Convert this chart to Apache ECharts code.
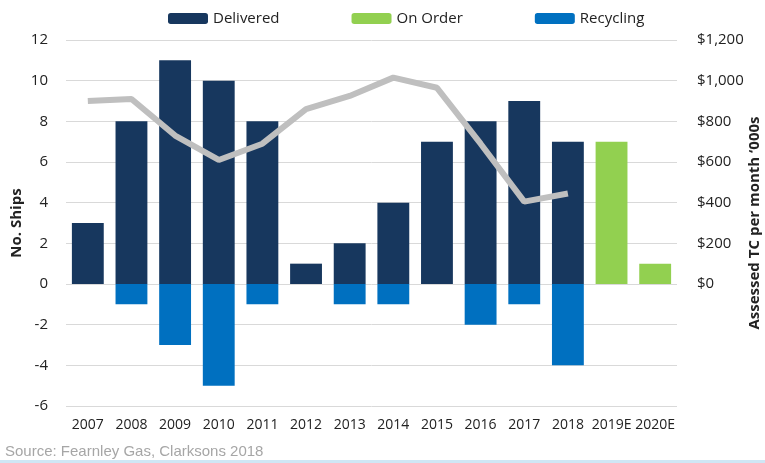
<!DOCTYPE html>
<html><head><meta charset="utf-8">
<script src="https://cdn.jsdelivr.net/npm/echarts@6/dist/echarts.min.js"></script>
<style>html,body{margin:0;padding:0;background:#fff}#c{width:765px;height:463px}</style>
</head><body><div id="c"></div>
<script>
const categories = ['2007','2008','2009','2010','2011','2012','2013','2014','2015','2016','2017','2018','2019E','2020E'];
const delivered = [3, 8, 11, 10, 8, 1, 2, 4, 7, 8, 9, 7, null, null];
const onOrder = [null, null, null, null, null, null, null, null, null, null, null, null, 7, 1];
const recycling = [null, -1, -3, -5, -1, null, -1, -1, null, -2, -1, -4, null, null];
const assessedTC = [900, 910, 730, 610, 690, 860, 925, 1015, 965, 690, 405, 445, null, null];
const leftTicks = [-6, 12, 2];
const rightTicks = [-600, 1200, 200];

const FONT = '"Liberation Sans Narrow", "Open Sans", sans-serif';
const chart = echarts.init(document.getElementById('c'));
chart.setOption({
  animation: false,
  textStyle: { fontFamily: FONT },
  legend: {
    top: 6, left: 163,
    itemWidth: 40, itemHeight: 11, itemGap: 72,
    textStyle: { fontSize: 15, color: '#222', fontFamily: FONT },
    data: ['Delivered', 'On Order', 'Recycling']
  },
  grid: { left: 66, right: 88, top: 40, bottom: 57, containLabel: false, outerBoundsMode: 'none' },
  xAxis: {
    type: 'category', data: categories,
    axisLine: { show: false }, axisTick: { show: false },
    axisLabel: { fontSize: 14, color: '#222', margin: 12, interval: 0, fontFamily: FONT }
  },
  yAxis: [{
    type: 'value', min: leftTicks[0], max: leftTicks[1], interval: leftTicks[2],
    name: 'No. Ships', nameLocation: 'middle', nameGap: 42, nameRotate: 90, nameMoveOverlap: false,
    nameTextStyle: { fontSize: 15, fontWeight: 'bold', color: '#222', fontFamily: FONT },
    axisLine: { show: false }, axisTick: { show: false },
    axisLabel: { fontSize: 15, color: '#222', margin: 18, fontFamily: FONT },
    splitLine: { lineStyle: { color: '#d9d9d9', width: 1 } }
  }, {
    type: 'value', min: rightTicks[0], max: rightTicks[1], interval: rightTicks[2],
    position: 'right',
    name: 'Assessed TC per month \u2018000s', nameLocation: 'middle', nameGap: 70, nameRotate: 90, nameMoveOverlap: false,
    nameTextStyle: { fontSize: 15, fontWeight: 'bold', color: '#222', fontFamily: FONT },
    axisLine: { show: false }, axisTick: { show: false }, splitLine: { show: false },
    axisLabel: {
      fontSize: 15, color: '#222', margin: 20, fontFamily: FONT,
      formatter: v => v < 0 ? '' : '$' + v.toLocaleString('en-US')
    }
  }],
  series: [
    { name: 'Delivered', type: 'bar', stack: 's', data: delivered, barWidth: '73%',
      itemStyle: { color: '#17375e' } },
    { name: 'On Order', type: 'bar', stack: 's', data: onOrder, barWidth: '73%',
      itemStyle: { color: '#92d050' } },
    { name: 'Recycling', type: 'bar', stack: 's', data: recycling, barWidth: '73%',
      itemStyle: { color: '#0070c0' } },
    { name: 'Assessed TC', type: 'line', yAxisIndex: 1, data: assessedTC,
      symbol: 'none', lineStyle: { color: '#bfbfbf', width: 6 }, z: 5 }
  ],
  graphic: [
    { type: 'text', left: 5, top: 444,
      style: { text: 'Source: Fearnley Gas, Clarksons 2018', fill: '#a6a6a6', fontSize: 15, fontFamily: 'Liberation Sans, Arial, sans-serif' } },
    { type: 'rect', left: 0, top: 460, shape: { width: 765, height: 3 }, style: { fill: '#cfe6f5' } }
  ]
});
</script></body></html>
